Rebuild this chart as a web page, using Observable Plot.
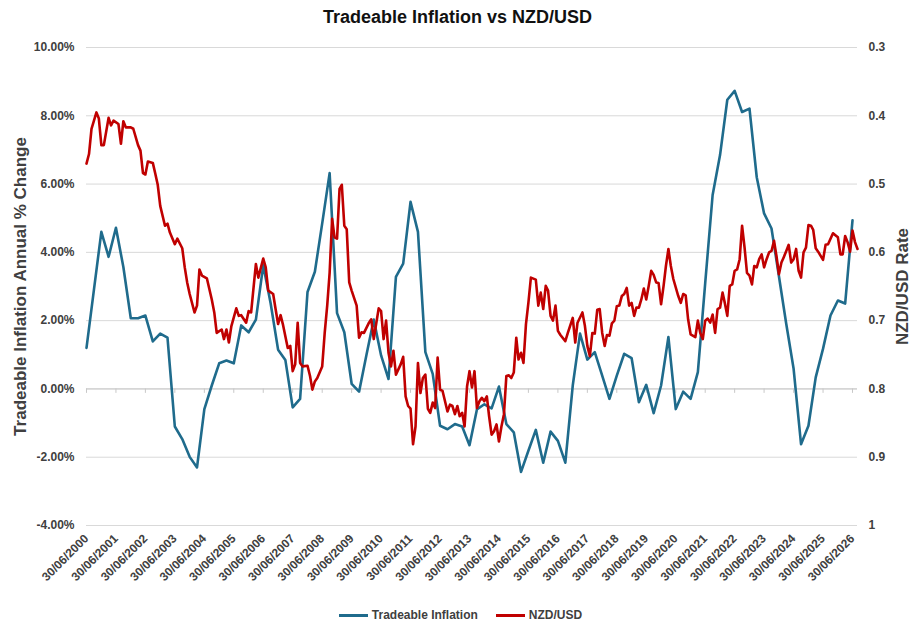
<!DOCTYPE html>
<html>
<head>
<meta charset="utf-8">
<script src="https://cdn.jsdelivr.net/npm/d3@7"></script>
<script src="https://cdn.jsdelivr.net/npm/@observablehq/plot@0.6"></script>
<style>
  html, body { margin: 0; padding: 0; background: #fff; }
  body { width: 915px; height: 631px; overflow: hidden; font-family: "Liberation Sans", Arial, sans-serif; }
  #title { height: 34px; line-height: 34px; text-align: center; font-size: 18px; font-weight: bold; color: #111; }
  #legend { display: flex; justify-content: center; align-items: center; gap: 18px; padding-top: 12px; height: 18px;
            font-size: 12px; font-weight: bold; color: #404040; padding-left: 6px; }
  .item { display: flex; align-items: center; gap: 4px; }
  .sw { width: 29px; height: 3px; }
</style>
</head>
<body>
<div id="title">Tradeable Inflation vs NZD/USD</div>
<div id="chart"></div>
<div id="legend"></div>
<script>
// Tick labels (30 June each year)
const tickYears = [2000,2001,2002,2003,2004,2005,2006,2007,2008,2009,2010,2011,2012,2013,2014,2015,2016,2017,2018,2019,2020,2021,2022,2023,2024,2025,2026];
const leftTicks = [-4, -2, 0, 2, 4, 6, 8, 10];
const rightTicks = [0.3, 0.4, 0.5, 0.6, 0.7, 0.8, 0.9, 1];

// Tradeable inflation, annual % change (quarterly)
const inflation = [
["2000-06",1.2],["2000-09",2.9],["2000-12",4.6],
["2001-03",3.87],["2001-06",4.72],["2001-09",3.57],["2001-12",2.07],
["2002-03",2.07],["2002-06",2.15],["2002-09",1.39],["2002-12",1.62],
["2003-03",1.50],["2003-06",-1.10],["2003-09",-1.47],["2003-12",-1.99],
["2004-03",-2.30],["2004-06",-0.59],["2004-09",0.10],["2004-12",0.75],
["2005-03",0.83],["2005-06",0.75],["2005-09",1.86],["2005-12",1.66],
["2006-03",2.03],["2006-06",3.62],["2006-09",2.5],["2006-12",1.15],
["2007-03",0.85],["2007-06",-0.54],["2007-09",-0.29],["2007-12",2.84],
["2008-03",3.43],["2008-06",4.85],["2008-09",6.32],["2008-12",2.22],
["2009-03",1.66],["2009-06",0.15],["2009-09",-0.08],["2009-12",1.0],
["2010-03",2.03],["2010-06",0.98],["2010-09",0.29],["2010-12",3.28],
["2011-03",3.67],["2011-06",5.48],["2011-09",4.60],["2011-12",1.08],
["2012-03",0.44],["2012-06",-1.08],["2012-09",-1.18],["2012-12",-1.03],
["2013-03",-1.10],["2013-06",-1.65],["2013-09",-0.6],["2013-12",-0.45],
["2014-03",-0.57],["2014-06",0.07],["2014-09",-1.03],["2014-12",-1.27],
["2015-03",-2.43],["2015-06",-1.81],["2015-09",-1.20],["2015-12",-2.16],
["2016-03",-1.25],["2016-06",-1.52],["2016-09",-2.16],["2016-12",0.10],
["2017-03",1.62],["2017-06",0.86],["2017-09",1.08],["2017-12",0.39],
["2018-03",-0.29],["2018-06",0.39],["2018-09",1.03],["2018-12",0.90],
["2019-03",-0.39],["2019-06",0.12],["2019-09",-0.71],["2019-12",0.10],
["2020-03",1.52],["2020-06",-0.59],["2020-09",-0.08],["2020-12",-0.29],
["2021-03",0.49],["2021-06",3.1],["2021-09",5.68],["2021-12",6.85],
["2022-03",8.47],["2022-06",8.73],["2022-09",8.11],["2022-12",8.21],
["2023-03",6.2],["2023-06",5.14],["2023-09",4.70],["2023-12",3.3],
["2024-03",1.9],["2024-06",0.59],["2024-09",-1.62],["2024-12",-1.08],
["2025-03",0.34],["2025-06",1.18],["2025-09",2.15],["2025-12",2.59],
["2026-03",2.50],["2026-06",4.94]
];

// NZD/USD rate (monthly, right axis, inverted)
const nzdusd = [
["2000-06",0.470],["2000-07",0.456],["2000-08",0.419],["2000-10",0.395],["2000-11",0.404],["2000-12",0.443],
["2001-01",0.443],["2001-03",0.403],["2001-04",0.414],["2001-05",0.407],["2001-07",0.412],["2001-08",0.441],["2001-09",0.408],["2001-10",0.417],["2001-12",0.417],
["2002-01",0.419],["2002-03",0.443],["2002-04",0.451],["2002-05",0.484],["2002-06",0.486],["2002-07",0.467],["2002-09",0.469],["2002-10",0.485],["2002-11",0.501],["2002-12",0.532],
["2003-02",0.561],["2003-03",0.558],["2003-04",0.571],["2003-06",0.588],["2003-07",0.580],["2003-09",0.594],["2003-10",0.622],["2003-11",0.644],["2003-12",0.661],
["2004-02",0.688],["2004-03",0.678],["2004-04",0.625],["2004-05",0.634],["2004-07",0.638],["2004-09",0.669],["2004-10",0.688],["2004-11",0.718],
["2005-01",0.713],["2005-02",0.727],["2005-03",0.713],["2005-04",0.732],["2005-05",0.708],["2005-07",0.682],["2005-08",0.693],["2005-09",0.692],["2005-11",0.703],["2005-12",0.686],
["2006-01",0.688],["2006-02",0.654],["2006-03",0.617],["2006-04",0.637],["2006-06",0.609],["2006-07",0.622],["2006-08",0.656],["2006-10",0.661],["2006-11",0.683],["2006-12",0.705],
["2007-01",0.692],["2007-02",0.705],["2007-04",0.740],["2007-05",0.737],["2007-06",0.774],["2007-07",0.764],["2007-08",0.703],["2007-09",0.762],["2007-10",0.767],["2007-12",0.766],
["2008-01",0.781],["2008-02",0.801],["2008-03",0.789],["2008-04",0.784],["2008-06",0.767],["2008-07",0.718],["2008-08",0.678],["2008-09",0.630],["2008-10",0.551],["2008-11",0.578],["2008-12",0.580],
["2009-01",0.507],["2009-02",0.501],["2009-03",0.561],["2009-04",0.566],["2009-05",0.644],["2009-06",0.656],["2009-08",0.678],["2009-09",0.725],["2009-10",0.717],["2009-11",0.718],
["2010-01",0.703],["2010-02",0.698],["2010-03",0.727],["2010-05",0.682],["2010-06",0.686],["2010-07",0.727],["2010-08",0.700],["2010-09",0.747],["2010-10",0.767],["2010-11",0.744],["2010-12",0.779],
["2011-02",0.764],["2011-03",0.753],["2011-04",0.811],["2011-05",0.825],["2011-06",0.829],["2011-07",0.881],["2011-08",0.855],["2011-09",0.762],["2011-10",0.806],["2011-11",0.784],["2011-12",0.779],
["2012-01",0.829],["2012-02",0.835],["2012-03",0.820],["2012-04",0.828],["2012-05",0.754],["2012-06",0.801],["2012-07",0.803],["2012-09",0.833],["2012-10",0.823],["2012-11",0.825],["2012-12",0.837],
["2013-01",0.825],["2013-02",0.840],["2013-03",0.835],["2013-04",0.855],["2013-05",0.796],["2013-06",0.774],["2013-07",0.798],["2013-08",0.774],["2013-09",0.828],["2013-10",0.818],["2013-11",0.813],["2013-12",0.818],
["2014-01",0.811],["2014-02",0.840],["2014-03",0.867],["2014-04",0.862],["2014-05",0.852],["2014-06",0.877],["2014-07",0.855],["2014-08",0.837],["2014-09",0.781],["2014-10",0.780],["2014-11",0.784],["2014-12",0.776],
["2015-01",0.725],["2015-02",0.757],["2015-03",0.747],["2015-04",0.762],["2015-05",0.705],["2015-06",0.674],["2015-07",0.637],["2015-09",0.640],["2015-10",0.678],["2015-11",0.659],["2015-12",0.683],
["2016-01",0.649],["2016-02",0.656],["2016-03",0.693],["2016-04",0.700],["2016-05",0.678],["2016-06",0.715],["2016-07",0.721],["2016-09",0.730],["2016-10",0.718],["2016-12",0.696],
["2017-01",0.732],["2017-02",0.703],["2017-04",0.688],["2017-05",0.708],["2017-06",0.737],["2017-07",0.752],["2017-08",0.718],["2017-09",0.719],["2017-10",0.684],["2017-11",0.683],["2017-12",0.718],
["2018-01",0.737],["2018-02",0.721],["2018-03",0.722],["2018-04",0.704],["2018-05",0.700],["2018-06",0.679],["2018-07",0.678],["2018-08",0.664],["2018-09",0.661],["2018-10",0.652],["2018-11",0.678],["2018-12",0.674],
["2019-01",0.693],["2019-02",0.681],["2019-03",0.681],["2019-04",0.669],["2019-05",0.653],["2019-06",0.669],["2019-07",0.649],["2019-08",0.627],["2019-09",0.633],["2019-10",0.644],["2019-11",0.645],["2019-12",0.676],
["2020-01",0.649],["2020-02",0.620],["2020-03",0.595],["2020-04",0.620],["2020-05",0.639],["2020-07",0.664],["2020-08",0.674],["2020-09",0.661],["2020-10",0.663],["2020-11",0.698],["2020-12",0.720],
["2021-02",0.724],["2021-03",0.700],["2021-04",0.718],["2021-05",0.727],["2021-06",0.700],["2021-07",0.697],["2021-08",0.703],["2021-09",0.691],["2021-10",0.718],["2021-11",0.683],["2021-12",0.681],
["2022-01",0.659],["2022-02",0.674],["2022-03",0.693],["2022-04",0.649],["2022-05",0.647],["2022-06",0.627],["2022-07",0.625],["2022-08",0.610],["2022-09",0.561],["2022-10",0.593],["2022-11",0.630],["2022-12",0.634],
["2023-01",0.647],["2023-02",0.620],["2023-03",0.622],["2023-04",0.610],["2023-05",0.603],["2023-06",0.622],["2023-07",0.610],["2023-08",0.600],["2023-09",0.598],["2023-10",0.583],["2023-11",0.605],["2023-12",0.632],
["2024-01",0.615],["2024-02",0.607],["2024-03",0.598],["2024-04",0.589],["2024-05",0.615],["2024-06",0.610],["2024-07",0.595],["2024-08",0.627],["2024-09",0.637],["2024-10",0.600],["2024-11",0.593],["2024-12",0.560],
["2025-01",0.561],["2025-02",0.567],["2025-03",0.594],["2025-04",0.599],["2025-06",0.611],["2025-07",0.589],["2025-08",0.588],["2025-10",0.572],["2025-11",0.575],["2025-12",0.578],
["2026-01",0.603],["2026-02",0.603],["2026-03",0.576],["2026-04",0.585],["2026-05",0.599],["2026-06",0.568],["2026-07",0.585],["2026-08",0.595]
];

const BLUE = "#1f6b8c";
const RED = "#c00000";
const TEXT = "#404040";

const parseMonth = d3.utcParse("%Y-%m");
const endOfMonth = s => d3.utcDay.offset(d3.utcMonth.offset(parseMonth(s), 1), -1);

const infData = inflation.map(([d, v]) => ({date: endOfMonth(d), value: v}));
const fxData = nzdusd.map(([d, v]) => ({date: endOfMonth(d), value: v}));
const tickDates = tickYears.map(y => new Date(Date.UTC(y, 5, 30)));

// secondary (right, inverted) axis mapped onto the left axis units
const fxToLeft = d3.scaleLinear().domain([0.3, 1]).range([10, -4]);

const chart = Plot.plot({
  width: 915,
  height: 560,
  marginTop: 13,
  marginBottom: 69,
  marginLeft: 86,
  marginRight: 58,
  style: {fontFamily: "Liberation Sans, Arial, sans-serif", fontSize: "12px", fontWeight: "bold", color: TEXT, background: "#fff"},
  x: {type: "utc", domain: [new Date(Date.UTC(2000, 5, 30)), new Date(Date.UTC(2026, 7, 31))]},
  y: {domain: [-4, 10]},
  marks: [
    Plot.gridY(leftTicks, {stroke: "#d9d9d9", strokeOpacity: 1, strokeWidth: 1}),
    Plot.ruleY([0], {stroke: "#c8c8c8", strokeWidth: 1}),
    Plot.ruleX(tickDates, {x: d => d, y1: 0, y2: -0.13, stroke: "#c8c8c8", strokeWidth: 1}),
    Plot.axisY(leftTicks, {anchor: "left", tickSize: 0, tickPadding: 12, tickFormat: d => d.toFixed(2) + "%", label: null}),
    Plot.axisY(rightTicks.map(fxToLeft), {anchor: "right", tickSize: 0, tickPadding: 11, label: null,
      tickFormat: v => String(+fxToLeft.invert(v).toFixed(2))}),
    Plot.axisX(tickDates, {anchor: "bottom", tickSize: 0, tickPadding: 11, tickRotate: -45, label: null,
      tickFormat: d3.utcFormat("%d/%m/%Y")}),
    Plot.line(infData, {x: "date", y: "value", stroke: BLUE, strokeWidth: 2.6, curve: "linear"}),
    Plot.line(fxData, {x: "date", y: d => fxToLeft(d.value), stroke: RED, strokeWidth: 2.6, curve: "linear"}),
    Plot.text(["Tradeable Inflation Annual % Change"], {frameAnchor: "left", textAnchor: "middle", dx: -66, rotate: -90, fontSize: 17, fontWeight: "bold", fill: TEXT}),
    Plot.text(["NZD/USD Rate"], {frameAnchor: "right", textAnchor: "middle", dx: 45, rotate: -90, fontSize: 17, fontWeight: "bold", fill: TEXT})
  ]
});
document.getElementById("chart").appendChild(chart);

const legendItems = [["Tradeable Inflation", BLUE], ["NZD/USD", RED]];
const legend = document.getElementById("legend");
for (const [name, color] of legendItems) {
  const item = document.createElement("div");
  item.className = "item";
  const sw = document.createElement("div");
  sw.className = "sw";
  sw.style.background = color;
  const label = document.createElement("span");
  label.textContent = name;
  item.appendChild(sw);
  item.appendChild(label);
  legend.appendChild(item);
}
</script>
</body>
</html>
